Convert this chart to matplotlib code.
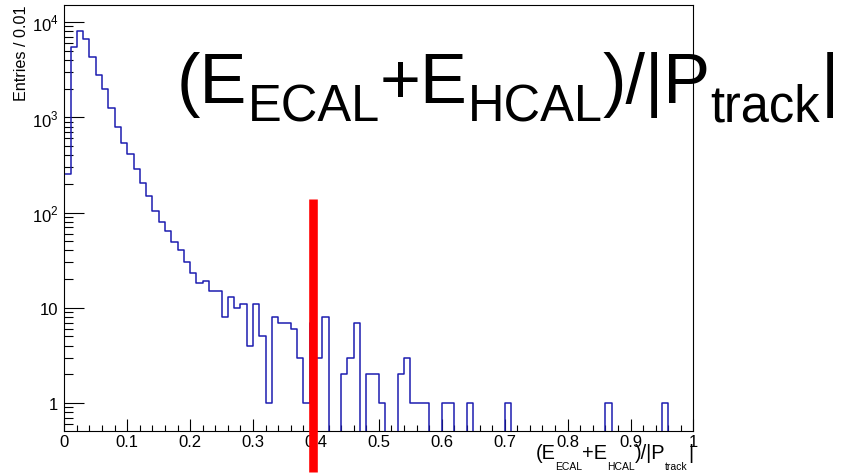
import numpy as np
import matplotlib
matplotlib.use("Agg")
import matplotlib.pyplot as plt
from matplotlib.ticker import FixedLocator, FixedFormatter, MultipleLocator

plt.rcParams['font.family'] = ['Liberation Sans', 'DejaVu Sans']
plt.rcParams['mathtext.fontset'] = 'custom'
plt.rcParams['mathtext.rm'] = 'Liberation Sans'

# entries per 0.01 bin, 0 .. 1
counts = np.zeros(100)
counts[:42] = [253, 5480, 8070, 6710, 4300, 2765, 1973, 1245, 793, 531,
               413, 285, 203, 150, 104, 79, 64, 49, 40, 30,
               23, 18, 19, 15, 15, 8, 13, 10, 11, 4,
               11, 5, 1, 8, 7, 7, 6, 3, 1, 7,
               3, 8]
counts[44:58] = [2, 3, 7, 0, 2, 2, 1, 0, 0, 2, 3, 1, 1, 1]
counts[60] = 1
counts[61] = 1
counts[64] = 1
counts[70] = 1
counts[86] = 1
counts[95] = 1
edges = np.linspace(0, 1, 101)

# cut position
cut_x = 0.3957
cut_ylo, cut_yhi = 0.19, 138

ytick_vals = [1, 10, 100, 1000, 10000]
ytick_labels = ['1', '10', r'$10^{2}$', r'$10^{3}$', r'$10^{4}$']

# variable name split into (text, subscript?) pieces, ROOT style #font[]_{...}
var_pieces = [('(E', False), ('ECAL', True), ('+E', False), ('HCAL', True),
              (')/|P', False), ('track', True), ('|', False)]

W, H = 846, 477
fig = plt.figure(figsize=(W / 100, H / 100), dpi=100)
ax = fig.add_axes([0.076, 0.095, 0.7437, 0.8924])

yplot = np.where(counts > 0, counts, 1e-3)
ax.step(edges, np.append(yplot, yplot[-1]), where='post', color='#1c1cb0', lw=1.1)

ax.set_yscale('log')
ax.set_xlim(0, 1)
ax.set_ylim(0.512, 15100)

ax.yaxis.set_major_locator(FixedLocator(ytick_vals))
ax.yaxis.set_major_formatter(FixedFormatter(ytick_labels))
ax.xaxis.set_major_locator(MultipleLocator(0.1))
ax.xaxis.set_minor_locator(MultipleLocator(0.02))
ax.xaxis.set_major_formatter(plt.FuncFormatter(lambda v, p: '%g' % round(v, 2)))

ax.tick_params(axis='both', which='both', direction='in', width=0.8, labelsize=12)
ax.tick_params(axis='y', which='major', length=14.4, pad=4.3)
ax.tick_params(axis='y', which='minor', length=6.5, labelleft=False)
ax.tick_params(axis='x', which='major', length=8.6, pad=2.5)
ax.tick_params(axis='x', which='minor', length=4.3)
for s in ax.spines.values():
    s.set_linewidth(0.8)

# red cut line, running past the bottom of the frame
ax.plot([cut_x, cut_x], [cut_ylo, cut_yhi], color='red', lw=6.2,
        solid_capstyle='butt', clip_on=False, zorder=5)

fig.text(0.025, 0.989, 'Entries / 0.01', rotation=90, ha='center', va='top',
         fontsize=11.6)

renderer = fig.canvas.get_renderer()


def draw_pieces(x0, base, size, pieces, sub_scale, sub_drop, align='left'):
    """lay out text pieces left to right, subscripts smaller and lowered (pixels)"""
    items = []
    for txt, sub in pieces:
        fs = size * sub_scale if sub else size
        t = fig.text(0, 0, txt, fontsize=fs, ha='left', va='baseline')
        w = t.get_window_extent(renderer).width
        items.append((t, w, sub))
    total = sum(w for _, w, _ in items)
    x = x0 - total if align == 'right' else x0
    for t, w, sub in items:
        y = base + (sub_drop if sub else 0)
        t.set_position((x / W, 1 - y / H))
        x += w


# axis title at bottom right
draw_pieces(693, 459, 14.4, var_pieces, 0.52, 11, align='right')
# large copy of the variable
draw_pieces(177, 103, 50.6, var_pieces, 0.72, 18.4)

fig.savefig('out.png', dpi=100)
